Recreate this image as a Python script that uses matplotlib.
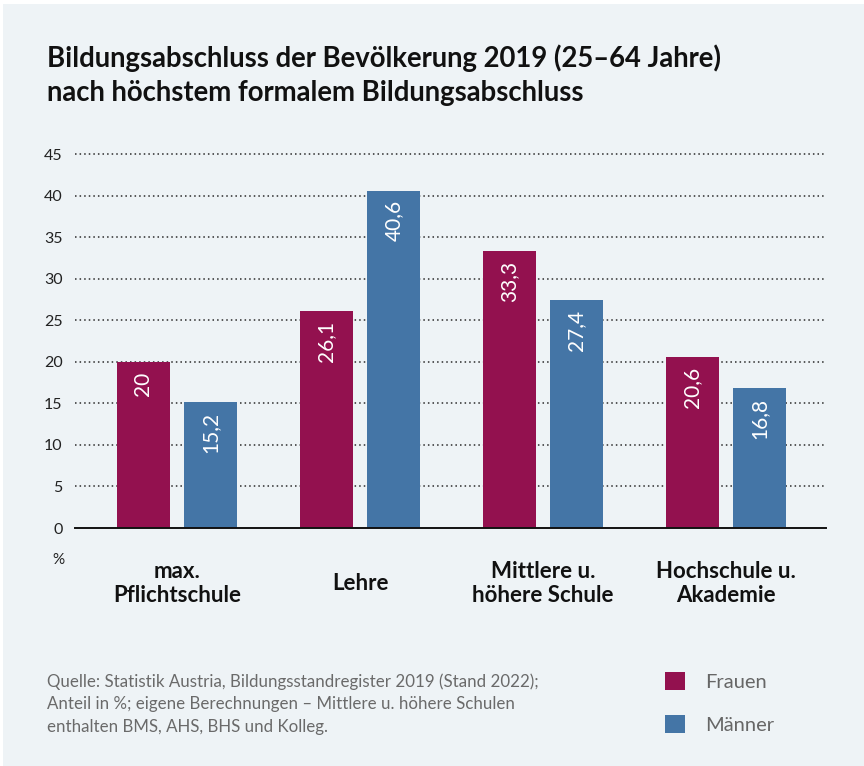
import matplotlib
matplotlib.use("Agg")
import numpy as np
from matplotlib import pyplot as plt
from matplotlib.patches import Patch, Rectangle

# Daten (Anteil in %)
categories = ["max.\nPflichtschule", "Lehre", "Mittlere u.\nhöhere Schule", "Hochschule u.\nAkademie"]
frauen = [20.0, 26.1, 33.3, 20.6]
maenner = [15.2, 40.6, 27.4, 16.8]
series_names = ["Frauen", "Männer"]
y_ticks = [0, 5, 10, 15, 20, 25, 30, 35, 40, 45]

title = "Bildungsabschluss der Bevölkerung 2019 (25–64 Jahre)\nnach höchstem formalem Bildungsabschluss"
source = ("Quelle: Statistik Austria, Bildungsstandregister 2019 (Stand 2022);\n"
          "Anteil in %; eigene Berechnungen – Mittlere u. höhere Schulen\n"
          "enthalten BMS, AHS, BHS und Kolleg.")

BG = "#EEF3F6"
C_FRAUEN = "#93114F"
C_MAENNER = "#4475A6"

plt.rcParams["font.family"] = ["Lato", "DejaVu Sans"]

W, H = 864, 766
fig = plt.figure(figsize=(W / 100, H / 100), dpi=100, facecolor="white")
# Hintergrundfläche (schmaler weißer Rand oben/links)
fig.patches.append(Rectangle((3 / W, 0), 1, 1 - 4 / H, transform=fig.transFigure,
                             facecolor=BG, edgecolor="none", zorder=-10))

ax = fig.add_axes([75 / W, 1 - 528 / H, (826 - 75) / W, (528 - 154) / H])
ax.set_facecolor("none")

x = np.arange(len(categories))
bar_w = 53 / 183
offset = 33.5 / 183

b1 = ax.bar(x - offset, frauen, width=bar_w, color=C_FRAUEN, zorder=3, label=series_names[0])
b2 = ax.bar(x + offset, maenner, width=bar_w, color=C_MAENNER, zorder=3, label=series_names[1])

# Werte in den Balken (gedreht)
for bars, vals in [(b1, frauen), (b2, maenner)]:
    for rect, v in zip(bars, vals):
        txt = f"{v:g}".replace(".", ",")
        ax.annotate(txt, (rect.get_x() + rect.get_width() / 2, v),
                    xytext=(0, -7), textcoords="offset points",
                    rotation=90, ha="center", va="top",
                    color="white", fontsize=15, zorder=4)

ax.set_xlim(-102 / 183, 3 + 100 / 183)
ax.set_ylim(0, 45)
ax.set_yticks(y_ticks)
ax.set_xticks(x, categories)

# gepunktete Gitternetzlinien
for t in y_ticks[1:]:
    ax.axhline(t, color="#2b2b2b", lw=1.1, ls=(0, (1, 2)), zorder=1, clip_on=False)

for s in ["top", "right", "left"]:
    ax.spines[s].set_visible(False)
ax.spines["bottom"].set_color("#111111")
ax.spines["bottom"].set_linewidth(1.4)
ax.spines["bottom"].set_zorder(5)

ax.tick_params(axis="y", length=0, pad=9, labelsize=11.5, labelcolor="#222222")
ax.tick_params(axis="x", length=0, pad=40, labelsize=16)
for lbl in ax.get_xticklabels():
    lbl.set_fontweight("bold")
    lbl.set_va("center")
    lbl.set_linespacing(1.2)
    lbl.set_color("#111111")

fig.text(58 / W, 1 - 560 / H, "%", ha="center", va="center", fontsize=11, color="#222222")

# Titel
fig.text(47 / W, 1 - 44 / H, title, ha="left", va="top", fontsize=19.8,
         fontweight="bold", color="#111111", linespacing=1.4)

# Quelle
fig.text(47 / W, 1 - 673 / H, source, ha="left", va="top", fontsize=12.2,
         color="#6a6a6a", linespacing=1.5)

# Legende
handles = [Patch(facecolor=C_FRAUEN), Patch(facecolor=C_MAENNER)]
leg = fig.legend(handles, series_names, loc="upper left",
                 bbox_to_anchor=(665 / W, 1 - 672 / H), frameon=False,
                 fontsize=14.5, handlelength=1.0, handleheight=1.0,
                 handletextpad=1.0, labelspacing=1.2, borderpad=0, borderaxespad=0)
for t in leg.get_texts():
    t.set_color("#666666")

fig.savefig("out.png", dpi=100, facecolor=fig.get_facecolor())
